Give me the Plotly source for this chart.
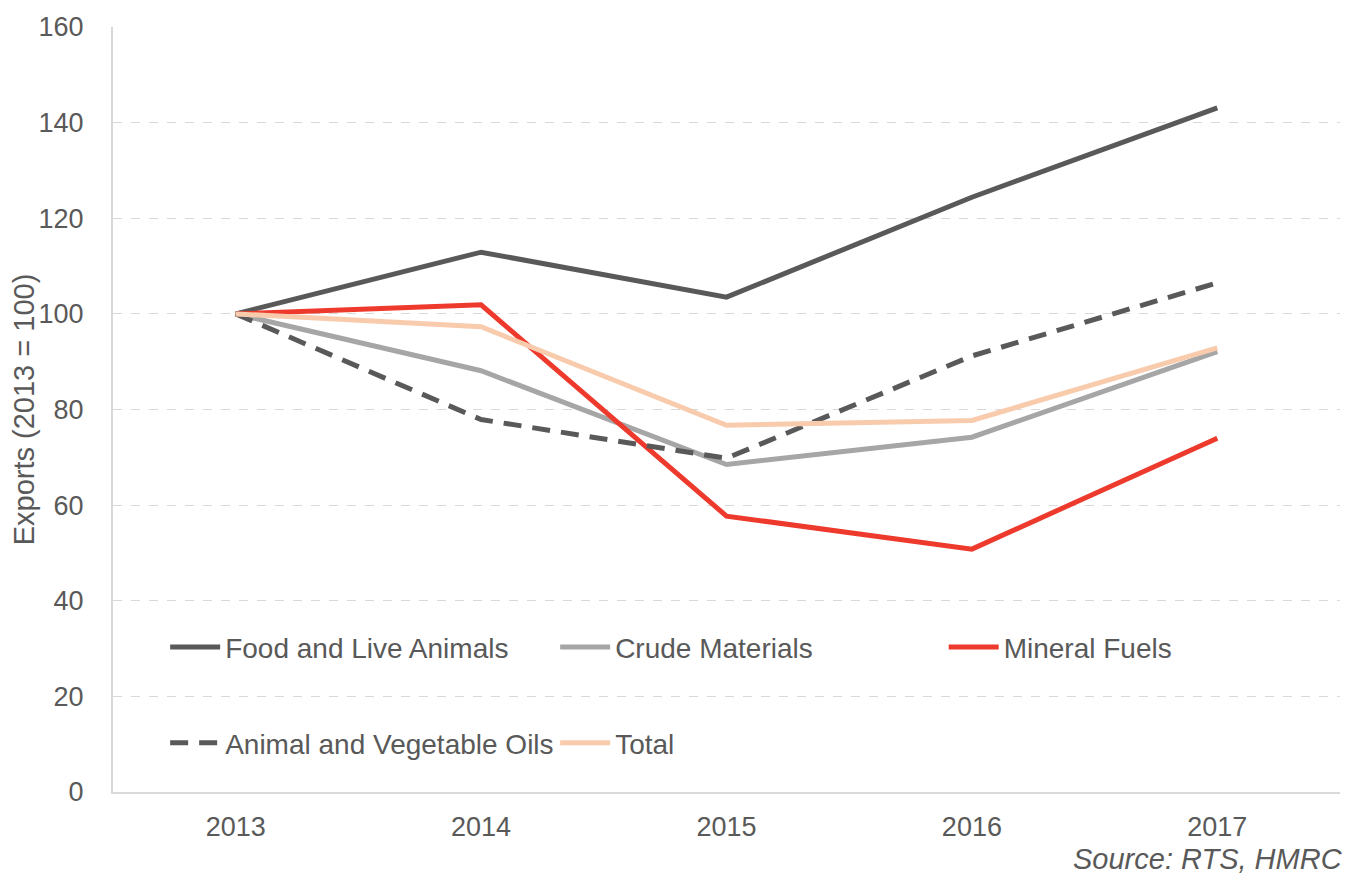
import plotly.graph_objects as go

years = ["2013", "2014", "2015", "2016", "2017"]
food = [100, 112.9, 103.5, 124.4, 143.1]
crude = [100, 88.1, 68.5, 74.2, 92.1]
mineral = [100, 101.9, 57.7, 50.8, 74.0]
oils = [100, 77.9, 69.8, 91.2, 106.5]
total = [100, 97.3, 76.7, 77.7, 92.9]

FONT = "Liberation Sans, Arial, sans-serif"
TXT = "#595959"
FS = 27

fig = go.Figure()
series = [
    ("Food and Live Animals", food, "#595959", "solid", "legend"),
    ("Crude Materials", crude, "#a6a6a6", "solid", "legend"),
    ("Mineral Fuels", mineral, "#ee3a2d", "solid", "legend3"),
    ("Animal and Vegetable Oils", oils, "#595959", "18px,11px", "legend2"),
    ("Total", total, "#f8cbad", "solid", "legend2"),
]
for name, vals, col, dash, lg in series:
    fig.add_trace(go.Scatter(
        x=years, y=vals, name=name, mode="lines",
        line=dict(color=col, width=5, dash=dash),
        legend=lg,
    ))

legend_common = dict(
    orientation="h", xanchor="left", yanchor="middle",
    font=dict(family=FONT, size=28, color=TXT),
    bgcolor="rgba(0,0,0,0)", entrywidth=325, entrywidthmode="pixels",
    itemwidth=50,
)
fig.update_layout(
    width=1336, height=866,
    margin=dict(l=105, r=4, t=16, b=82),
    paper_bgcolor="white", plot_bgcolor="white",
    font=dict(family=FONT, color=TXT),
    legend=dict(x=0.0425, y=0.189, **legend_common),
    legend3=dict(x=0.677, y=0.189, **legend_common),
    legend2=dict(x=0.0425, y=0.064, **legend_common),
    xaxis=dict(
        type="category", range=[-0.5, 4.5],
        showgrid=False, showline=True, linecolor="#d9d9d9", linewidth=2,
        ticks="", tickfont=dict(family=FONT, size=FS, color=TXT),
        ticklabelstandoff=10,
    ),
    yaxis=dict(
        range=[0, 160], dtick=20, showgrid=True,
        gridcolor="#d9d9d9", griddash="dash", gridwidth=1,
        showline=True, linecolor="#d9d9d9", linewidth=2,
        zeroline=False, ticks="",
        tickfont=dict(family=FONT, size=FS, color=TXT),
        ticklabelstandoff=22,
        title=dict(text="Exports (2013 = 100)", font=dict(family=FONT, size=29, color=TXT), standoff=5),
    ),
    annotations=[dict(
        text="<i>Source: RTS, HMRC</i>", xref="paper", yref="paper",
        x=1.004, y=-0.088, xanchor="right", yanchor="middle", showarrow=False,
        font=dict(family=FONT, size=29, color=TXT),
    )],
)
fig.write_html("out.html")
